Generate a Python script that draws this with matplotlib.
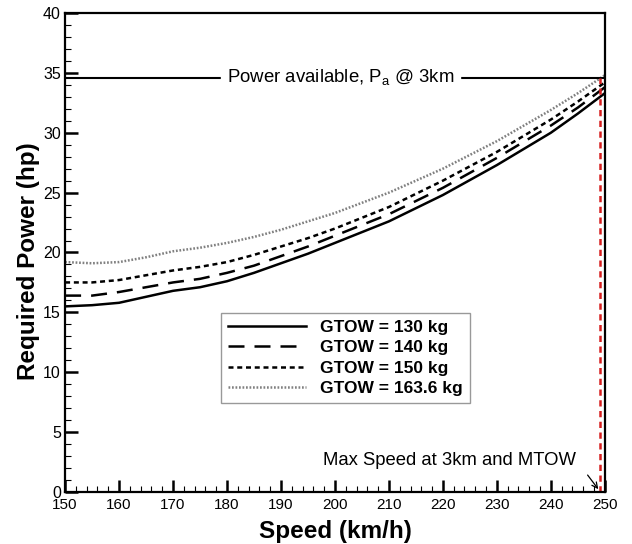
import matplotlib
matplotlib.use("Agg")
import matplotlib.pyplot as plt
import numpy as np

plt.rcParams['font.family'] = ['Liberation Sans', 'DejaVu Sans']

# speed (km/h)
speed = [150, 155, 160, 165, 170, 175, 180, 185, 190, 195, 200, 210, 220, 230, 240, 245, 250]

# required power (hp) per gross take-off weight
p130 = [15.5, 15.6, 15.8, 16.3, 16.8, 17.1, 17.6, 18.3, 19.1, 19.9, 20.8, 22.6, 24.8, 27.3, 30.0, 31.6, 33.3]
p140 = [16.4, 16.4, 16.7, 17.1, 17.5, 17.8, 18.3, 18.9, 19.7, 20.5, 21.4, 23.2, 25.4, 27.9, 30.6, 32.1, 33.8]
p150 = [17.5, 17.5, 17.7, 18.1, 18.5, 18.8, 19.2, 19.8, 20.5, 21.2, 22.0, 23.8, 26.0, 28.4, 31.1, 32.6, 34.2]
p164 = [19.2, 19.1, 19.2, 19.6, 20.1, 20.4, 20.8, 21.3, 21.9, 22.6, 23.3, 25.0, 27.0, 29.3, 31.9, 33.3, 34.8]

labels = ["GTOW = 130 kg", "GTOW = 140 kg", "GTOW = 150 kg", "GTOW = 163.6 kg"]

p_avail = 34.6
v_max = 249.1

fig = plt.figure(figsize=(6.32, 5.44), dpi=100)
ax = fig.add_axes([0.103, 0.0956, 0.854, 0.8805])

ax.plot(speed, p130, color="black", lw=1.8, ls="-", label=labels[0])
ax.plot(speed, p140, color="black", lw=1.8, ls=(0, (6.4, 4)), label=labels[1])
ax.plot(speed, p150, color="black", lw=1.8, ls=(0, (2, 1.5)), label=labels[2])
ax.plot(speed, p164, color="gray", lw=1.8, ls=(0, (0.7, 0.7)), label=labels[3])

# power available line
ax.axhline(p_avail, color="black", lw=1.5)
ax.text(201, p_avail, "Power available, P$_\\mathregular{a}$ @ 3km", ha="center", va="center",
        fontsize=13.4, backgroundcolor="white")

# max speed
ax.plot([v_max, v_max], [0, p_avail], color="#d62020", lw=1.8, ls=(0, (2.5, 1.8)))
ax.text(244.6, 2.6, "Max Speed at 3km and MTOW", ha="right", va="center", fontsize=13.3)
ax.annotate("", xy=(v_max, 0.05), xytext=(246.5, 1.6),
            arrowprops=dict(arrowstyle="->", color="black", lw=0.9))

ax.set_xlim(150, 250)
ax.set_ylim(0, 40)
ax.set_xticks(np.arange(150, 251, 10))
ax.set_yticks(np.arange(0, 41, 5))
ax.set_xticks(np.arange(150, 251, 2), minor=True)
ax.set_yticks(np.arange(0, 41, 1), minor=True)
ax.tick_params(which="both", direction="in", top=False, right=False, labelsize=11.5)
ax.tick_params(axis="x", pad=4, labelsize=11)
ax.tick_params(axis="y", pad=3)
ax.tick_params(which="major", length=9, width=1.8)
ax.tick_params(which="minor", length=4, width=0.8)
for s in ax.spines.values():
    s.set_linewidth(1.6)

ax.set_xlabel("Speed (km/h)", fontsize=17.5, fontweight="bold", labelpad=6)
ax.set_ylabel("Required Power (hp)", fontsize=17.5, fontweight="bold")
ax.yaxis.set_label_coords(-0.047, 0.481)

leg = ax.legend(loc="center", bbox_to_anchor=(0.52, 0.28), frameon=True,
                fancybox=False, handlelength=4.5, borderpad=0.4, labelspacing=0.3,
                prop={"weight": "bold", "size": 12.5})
leg.get_frame().set_edgecolor("gray")
leg.get_frame().set_linewidth(1.0)

fig.savefig("out.png", dpi=100)
